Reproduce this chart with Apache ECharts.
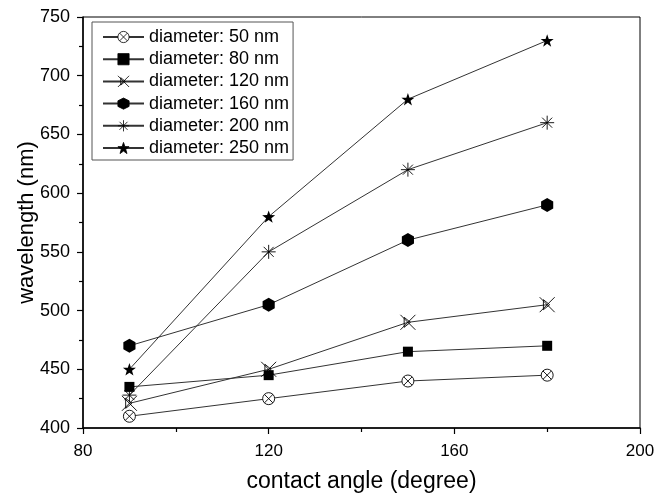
<!DOCTYPE html>
<html>
<head>
<meta charset="utf-8">
<script src="https://cdn.jsdelivr.net/npm/echarts@6/dist/echarts.min.js"></script>
<style>
  html, body { margin: 0; padding: 0; background: #fff; }
  #chart { width: 655px; height: 494px; }
</style>
</head>
<body>
<div id="chart"></div>
<script>
// contact angle (degree)
const angles = [90, 120, 150, 180];

// wavelength (nm) per particle diameter
const d50 = [410, 425, 440, 445];
const d80 = [435, 445, 465, 470];
const d120 = [421, 450, 490, 505];
const d160 = [470, 505, 560, 590];
const d200 = [428, 550, 620, 660];
const d250 = [450, 580, 680, 730];

const seriesNames = [
  'diameter: 50 nm', 'diameter: 80 nm', 'diameter: 120 nm',
  'diameter: 160 nm', 'diameter: 200 nm', 'diameter: 250 nm'
];
const seriesValues = [d50, d80, d120, d160, d200, d250];

// marker shapes, drawn as paths
const circleX = 'path://M0,-6A6,6 0 1,1 0,6A6,6 0 1,1 0,-6Z M-4.2,-4.2L4.2,4.2 M4.2,-4.2L-4.2,4.2';
const squareMk = 'rect';
const crossMk = 'path://M-6,-6L6,6 M6,-6L-6,6 M-3,-4L-3,4 M-3,-4L2,0 M-3,4L2,0';
const hexMk = 'path://M0,-6L5.2,-3L5.2,3L0,6L-5.2,3L-5.2,-3Z';
const asterMk = 'path://M-6,0L6,0 M0,-6L0,6 M-4.3,-4.3L4.3,4.3 M4.3,-4.3L-4.3,4.3';
const starMk = 'path://M0,-10L2.35,-3.24L9.51,-3.09L3.8,1.24L5.88,8.09L0,4L-5.88,8.09L-3.8,1.24L-9.51,-3.09L-2.35,-3.24Z';

const markers = [
  { symbol: circleX, size: 12, fill: '#fff', border: 0.9 },
  { symbol: squareMk, size: 10, fill: '#000', border: 0 },
  { symbol: crossMk, size: 15, fill: 'none', border: 0.9 },
  { symbol: hexMk, size: 14, fill: '#000', border: 0 },
  { symbol: asterMk, size: 14, fill: 'none', border: 0.9 },
  { symbol: starMk, size: 13, fill: '#000', border: 0 }
];

const font = "'Liberation Sans', Arial, sans-serif";

const chart = echarts.init(document.getElementById('chart'), null, { renderer: 'canvas' });

const option = {
  backgroundColor: '#fff',
  animation: false,
  grid: {
    left: 83, right: 15, top: 17, bottom: 66,
    outerBoundsMode: 'none',
    show: true, borderColor: '#000', borderWidth: 1, backgroundColor: 'transparent'
  },
  legend: {
    orient: 'vertical',
    left: 92, top: 22,
    padding: [6, 4, 3, 10],
    itemWidth: 41, itemHeight: 14, itemGap: 4.2,
    borderColor: '#555', borderWidth: 1,
    backgroundColor: '#fff',
    itemStyle: { borderWidth: 0.8 },
    textStyle: { fontFamily: font, fontSize: 18, color: '#000', lineHeight: 16 },
    data: seriesNames
  },
  xAxis: {
    type: 'value',
    min: 80, max: 200, interval: 40,
    name: 'contact angle (degree)',
    nameLocation: 'middle',
    nameGap: 42,
    nameMoveOverlap: false,
    nameTextStyle: { fontFamily: font, fontSize: 23, color: '#000' },
    axisLine: { lineStyle: { color: '#000', width: 1.5 } },
    axisTick: { inside: false, length: 6, lineStyle: { color: '#000', width: 1.2 } },
    minorTick: { show: true, splitNumber: 2, length: 4, lineStyle: { color: '#000', width: 1.2 } },
    axisLabel: { fontFamily: font, fontSize: 17, color: '#000', margin: 15 },
    splitLine: { show: false }
  },
  yAxis: {
    type: 'value',
    min: 400, max: 750, interval: 50,
    name: 'wavelength (nm)',
    nameLocation: 'middle',
    nameGap: 45,
    nameMoveOverlap: false,
    nameTextStyle: { fontFamily: font, fontSize: 22, color: '#000' },
    axisLine: { show: true, lineStyle: { color: '#000', width: 1.5 } },
    axisTick: { show: true, inside: false, length: 6, lineStyle: { color: '#000', width: 1.2 } },
    minorTick: { show: true, splitNumber: 2, length: 4, lineStyle: { color: '#000', width: 1.2 } },
    axisLabel: { fontFamily: font, fontSize: 18, color: '#000', margin: 13 },
    splitLine: { show: false }
  },
  series: seriesNames.map((name, i) => ({
    name: name,
    type: 'line',
    data: angles.map((a, j) => [a, seriesValues[i][j]]),
    symbol: markers[i].symbol,
    symbolSize: markers[i].size,
    symbolKeepAspect: true,
    showAllSymbol: true,
    lineStyle: { color: '#333', width: 1 },
    itemStyle: {
      color: markers[i].fill,
      borderColor: '#000',
      borderWidth: markers[i].border
    },
    emphasis: { disabled: true },
    z: 2 + i
  }))
};

chart.setOption(option);
</script>
</body>
</html>
